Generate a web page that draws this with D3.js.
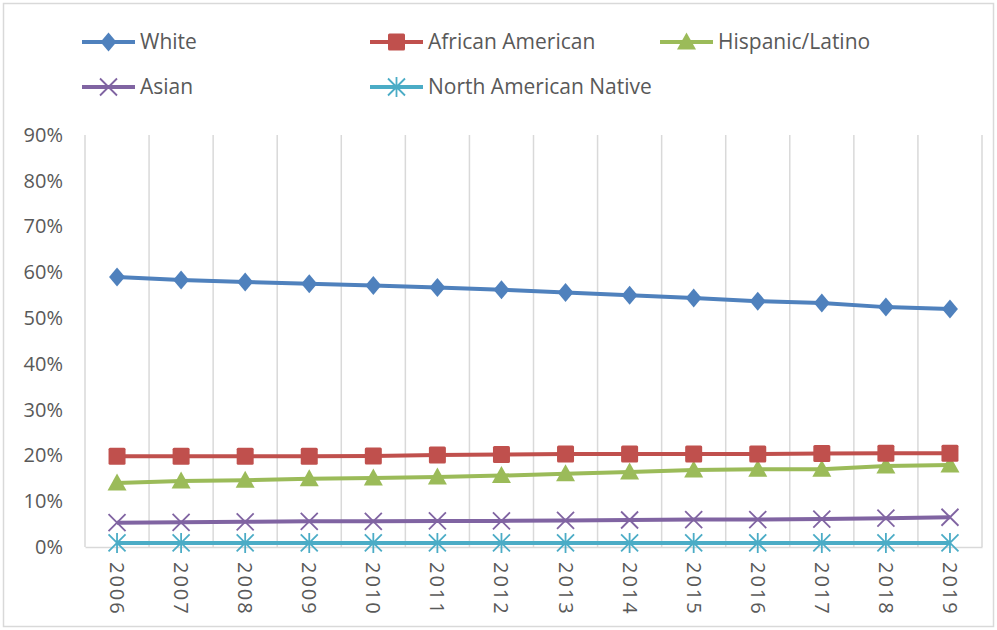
<!DOCTYPE html>
<html>
<head>
<meta charset="utf-8">
<script src="https://cdnjs.cloudflare.com/ajax/libs/d3/7.8.5/d3.min.js"></script>
<style>
  body { margin: 0; background: #fff; }
  text { fill: #595959; }
  .legend text { font-family: "Liberation Sans Narrow", "Open Sans", sans-serif; font-size: 21px; }
  .tick text { font-family: "Open Sans", "Noto Sans", sans-serif; font-size: 20px; }
</style>
</head>
<body>
<svg width="997" height="630"></svg>
<script>
// data (percent)
var years = ["2006","2007","2008","2009","2010","2011","2012","2013","2014","2015","2016","2017","2018","2019"];
var white    = [59.0, 58.3, 57.9, 57.5, 57.1, 56.7, 56.2, 55.6, 55.0, 54.4, 53.7, 53.3, 52.4, 52.0];
var african  = [19.8, 19.8, 19.8, 19.8, 19.9, 20.1, 20.2, 20.3, 20.3, 20.3, 20.3, 20.4, 20.5, 20.5];
var hispanic = [14.0, 14.4, 14.6, 14.9, 15.1, 15.3, 15.6, 16.0, 16.4, 16.8, 17.0, 17.0, 17.7, 17.9];
var asian    = [5.3, 5.4, 5.5, 5.6, 5.6, 5.7, 5.7, 5.8, 5.9, 6.0, 6.0, 6.1, 6.3, 6.5];
var native   = [0.9, 0.9, 0.9, 0.9, 0.9, 0.9, 0.9, 0.9, 0.9, 0.9, 0.9, 0.9, 0.9, 0.9];
var yTicks = [0, 10, 20, 30, 40, 50, 60, 70, 80, 90];

var series = [
  {name: "White", values: white, color: "#4F81BD", marker: "diamond"},
  {name: "African American", values: african, color: "#C0504D", marker: "square"},
  {name: "Hispanic/Latino", values: hispanic, color: "#9BBB59", marker: "triangle"},
  {name: "Asian", values: asian, color: "#8064A2", marker: "x"},
  {name: "North American Native", values: native, color: "#4BACC6", marker: "star"}
];

var svg = d3.select("svg");

// outer chart border
svg.append("rect")
  .attr("x", 3.5).attr("y", 3.5).attr("width", 990).attr("height", 623)
  .attr("fill", "none").attr("stroke", "#d9d9d9").attr("stroke-width", 1.5);

var plotLeft = 85, plotRight = 982, plotTop = 135, plotBottom = 547;

var x = d3.scaleBand().domain(years).range([plotLeft, plotRight]);
var y = d3.scaleLinear().domain([0, 90]).range([plotBottom, plotTop]);

// vertical gridlines on band edges
var edges = years.map(function(d) { return x(d); }).concat([plotRight]);
svg.append("g").selectAll("line").data(edges).enter().append("line")
  .attr("x1", function(d) { return d; }).attr("x2", function(d) { return d; })
  .attr("y1", plotTop).attr("y2", plotBottom)
  .attr("stroke", "#d9d9d9").attr("stroke-width", 1.5);

// x axis
var xAxis = svg.append("g")
  .attr("transform", "translate(0," + plotBottom + ")")
  .call(d3.axisBottom(x).tickSize(0).tickPadding(0));
xAxis.select(".domain").attr("stroke", "#d9d9d9").attr("stroke-width", 1.5);
xAxis.selectAll(".tick text")
  .attr("transform", "translate(0,15) rotate(90)")
  .attr("dy", "0.35em")
  .attr("text-anchor", "start")
  .attr("y", 0)
  .attr("x", 0)
  .style("letter-spacing", "2px");

// y axis
var yAxis = svg.append("g")
  .attr("transform", "translate(" + plotLeft + ",0)")
  .call(d3.axisLeft(y).tickValues(yTicks).tickSize(0).tickPadding(22)
    .tickFormat(function(d) { return d + "%"; }));
yAxis.select(".domain").remove();

// markers
function drawMarker(g, type, color) {
  if (type === "diamond") {
    g.append("path").attr("d", "M0,-9.5L8,0L0,9.5L-8,0Z").attr("fill", color);
  } else if (type === "square") {
    g.append("rect").attr("x", -8.5).attr("y", -8.5).attr("width", 17).attr("height", 17)
      .attr("rx", 1.5).attr("fill", color);
  } else if (type === "triangle") {
    g.append("path").attr("d", "M0,-9.5L9.5,7.5L-9.5,7.5Z").attr("fill", color);
  } else if (type === "x") {
    g.append("path").attr("d", "M-8.5,-8.5L8.5,8.5M-8.5,8.5L8.5,-8.5").attr("stroke", color).attr("stroke-width", 1.8);
  } else if (type === "star") {
    g.append("path").attr("d", "M-8.5,-8.5L8.5,8.5M-8.5,8.5L8.5,-8.5M0,-10L0,10").attr("stroke", color).attr("stroke-width", 1.8);
  }
}

var line = d3.line()
  .x(function(d, i) { return x(years[i]) + x.bandwidth() / 2; })
  .y(function(d) { return y(d); });

series.slice().reverse().forEach(function(s) {
  svg.append("path")
    .datum(s.values)
    .attr("d", line)
    .attr("fill", "none")
    .attr("stroke", s.color)
    .attr("stroke-width", 4)
    .attr("stroke-linejoin", "round");
  s.values.forEach(function(v, i) {
    var g = svg.append("g")
      .attr("transform", "translate(" + (x(years[i]) + x.bandwidth() / 2) + "," + y(v) + ")");
    drawMarker(g, s.marker, s.color);
  });
});

// legend
var legendPos = [[82, 42], [370, 42], [660, 42], [82, 87], [370, 87]];
var legend = svg.append("g").attr("class", "legend");
series.forEach(function(s, i) {
  var p = legendPos[i];
  var g = legend.append("g").attr("transform", "translate(" + p[0] + "," + p[1] + ")");
  g.append("line").attr("x1", 0).attr("x2", 53).attr("y1", 0).attr("y2", 0)
    .attr("stroke", s.color).attr("stroke-width", 4);
  var m = g.append("g").attr("transform", "translate(26.5,0)");
  drawMarker(m, s.marker, s.color);
  g.append("text").attr("x", 58).attr("y", 0).attr("dy", "0.35em").text(s.name);
});
</script>
</body>
</html>
